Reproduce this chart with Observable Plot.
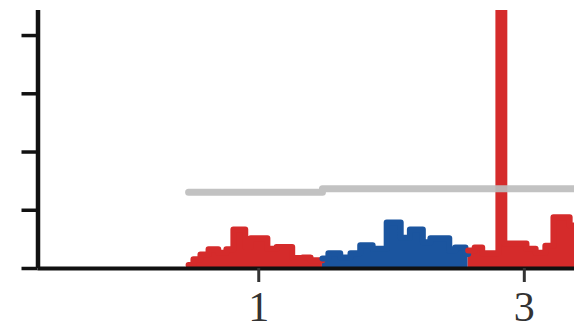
<!DOCTYPE html>
<html>
<head>
<meta charset="utf-8">
<script src="https://cdn.jsdelivr.net/npm/d3@7"></script>
<script src="https://cdn.jsdelivr.net/npm/@observablehq/plot@0.6"></script>
<style>
  html, body { margin: 0; padding: 0; background: #fff; }
  #chart { width: 574px; height: 331px; overflow: hidden; }
</style>
</head>
<body>
<div id="chart"></div>
<script>
// Chromosomes (positions in Mb, cumulative)
const chromosomes = ["1", "2", "3"];
const chromStart = [0, 248, 518];
const chromEnd = [248, 518, 720];
const chromColor = ["#d52b2b", "#1b559f", "#d52b2b"];
const thresholds = [1.31, 1.37, 1.37];

// Step profile per chromosome: step start position and value (-log10 p)
const chr1Pos = [0, 9, 22, 37, 55, 70, 83, 105, 115, 146, 163, 192, 211, 226];
const chr1Val = [0.06, 0.16, 0.24, 0.33, 0.27, 0.33, 0.67, 0.37, 0.52, 0.34, 0.37, 0.18, 0.19, 0.14];
const chr2Pos = [248, 259, 281, 300, 318, 341, 367, 393, 410, 434, 448, 483, 494, 513];
const chr2Val = [0.17, 0.26, 0.19, 0.26, 0.40, 0.34, 0.79, 0.53, 0.67, 0.45, 0.52, 0.31, 0.36, 0.25];
const chr3Pos = [518, 530, 544, 574, 585, 626, 643, 661, 676, 706];
const chr3Val = [0.31, 0.36, 0.26, 4.43, 0.43, 0.34, 0.27, 0.39, 0.88, 0.74];

// Axes
const yTicks = [0, 1, 2, 3, 4];
const xTickPos = [130, 622];
const xTickLabels = ["1", "3"];
const xDomain = [-279, 715];
const yDomain = [0, 4.43];

const posArrays = [chr1Pos, chr2Pos, chr3Pos];
const valArrays = [chr1Val, chr2Val, chr3Val];
const profile = [];
chromosomes.forEach((c, i) => {
  const P = posArrays[i], V = valArrays[i];
  P.forEach((p, j) => profile.push({chr: c, pos: p, val: V[j]}));
  profile.push({chr: c, pos: chromEnd[i], val: V[V.length - 1]});
});
const thresholdLine = [];
chromosomes.forEach((c, i) => thresholdLine.push({pos: chromStart[i], y: thresholds[i]}));
thresholdLine.push({pos: chromEnd[chromEnd.length - 1], y: thresholds[thresholds.length - 1]});
const colorOf = Object.fromEntries(chromosomes.map((c, i) => [c, chromColor[i]]));

const chart = Plot.plot({
  width: 574,
  height: 331,
  marginLeft: 37.5,
  marginRight: 0,
  marginTop: 10,
  marginBottom: 63,
  x: {domain: xDomain, axis: null},
  y: {domain: yDomain, axis: null},
  style: {background: "#fff", overflow: "hidden"},
  marks: [
    ...chromosomes.map(c => Plot.areaY(profile.filter(d => d.chr === c), {
      x: "pos", y: "val", curve: "step-after", fill: colorOf[c], clip: true
    })),
    ...chromosomes.map(c => Plot.lineY(profile.filter(d => d.chr === c), {
      x: "pos", y: "val", curve: "step-after", stroke: colorOf[c], strokeWidth: 6,
      strokeLinejoin: "round", strokeLinecap: "round", clip: true
    })),
    Plot.lineY(thresholdLine, {x: "pos", y: "y", curve: "step-after", stroke: "#bdbdbd", strokeWidth: 7, strokeOpacity: 0.92, clip: true}),
    Plot.ruleY([0], {stroke: "#111", strokeWidth: 4}),
    Plot.ruleX([xDomain[0]], {y1: yDomain[0], y2: yDomain[1], stroke: "#111", strokeWidth: 4.5}),
    Plot.axisY({ticks: yTicks, tickSize: 16, stroke: "#111", strokeWidth: 3.5, fill: "none", label: null}),
    Plot.axisX({ticks: xTickPos, tickSize: 14, stroke: "#333", strokeWidth: 3, fill: "none", label: null}),
    Plot.text(xTickPos, {
      x: d => d, text: (d, i) => xTickLabels[i], frameAnchor: "bottom", lineAnchor: "bottom",
      dy: 52, fontSize: 42, fontFamily: "Liberation Serif, Times New Roman, serif", fill: "#333"
    })
  ]
});
document.getElementById("chart").appendChild(chart);
</script>
</body>
</html>
